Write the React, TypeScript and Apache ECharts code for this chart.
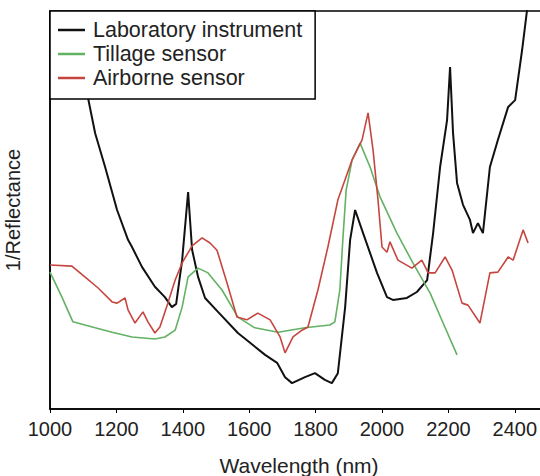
import React, { useEffect, useRef } from "react";
import * as echarts from "echarts";

const xTicks = [1000, 1200, 1400, 1600, 1800, 2000, 2200, 2400];

const labWl = [1072, 1114, 1136, 1166, 1202, 1235, 1247, 1277, 1316, 1346, 1367, 1380, 1398, 1416, 1428, 1446, 1467, 1506, 1566, 1648, 1684, 1708, 1729, 1768, 1798, 1828, 1849, 1867, 1889, 1904, 1919, 1943, 1985, 2015, 2033, 2075, 2105, 2136, 2154, 2175, 2196, 2205, 2214, 2226, 2244, 2265, 2274, 2289, 2304, 2325, 2349, 2380, 2401, 2422, 2437];
const labVal = [99, 78.4, 69.3, 60.8, 50.0, 42.5, 40.7, 35.7, 30.7, 28.1, 25.6, 26.4, 37.4, 54.5, 40.0, 33.2, 27.9, 24.4, 19.1, 13.6, 11.6, 8.0, 6.5, 8.0, 9.0, 7.3, 6.5, 9.0, 25.6, 42.5, 50.0, 44.2, 34.2, 28.1, 27.4, 27.9, 29.4, 32.4, 44.2, 60.8, 72.6, 85.9, 69.3, 56.8, 51.3, 47.5, 44.2, 46.7, 44.2, 60.8, 67.6, 75.9, 77.6, 90.2, 100.3];

const tillWl = [1000, 1036, 1069, 1136, 1187, 1247, 1316, 1346, 1377, 1398, 1416, 1446, 1476, 1518, 1566, 1617, 1687, 1768, 1843, 1858, 1873, 1882, 1892, 1910, 1934, 1964, 1994, 2045, 2093, 2145, 2184, 2226];
const tillVal = [34.4, 28.1, 21.9, 20.4, 19.3, 18.1, 17.6, 18.1, 19.8, 25.6, 33.2, 35.4, 34.2, 29.9, 23.1, 20.4, 19.3, 20.4, 21.1, 21.9, 29.9, 42.5, 55.0, 62.6, 66.8, 60.8, 53.3, 44.2, 36.7, 29.1, 21.6, 13.6];

const airWl = [1000, 1066, 1105, 1145, 1187, 1202, 1226, 1235, 1256, 1280, 1295, 1316, 1331, 1355, 1377, 1398, 1428, 1458, 1482, 1503, 1533, 1563, 1593, 1626, 1663, 1693, 1708, 1732, 1759, 1777, 1807, 1837, 1867, 1910, 1940, 1958, 1973, 1988, 2000, 2015, 2024, 2048, 2090, 2120, 2139, 2160, 2190, 2211, 2241, 2259, 2295, 2325, 2349, 2380, 2395, 2425, 2440];
const airVal = [36.2, 35.9, 33.2, 30.4, 26.9, 26.6, 27.9, 24.9, 21.6, 24.4, 21.9, 19.1, 20.6, 26.6, 32.4, 36.7, 41.0, 43.0, 41.7, 39.9, 31.7, 23.1, 22.4, 24.1, 22.4, 18.1, 14.1, 18.1, 19.8, 20.6, 29.9, 40.7, 52.5, 62.6, 67.6, 74.4, 65.1, 52.5, 40.7, 39.4, 42.0, 37.4, 35.4, 37.4, 34.2, 34.2, 38.2, 34.9, 26.6, 26.1, 21.6, 34.2, 34.4, 38.2, 37.4, 45.0, 41.7];

const seriesNames = ["Laboratory instrument", "Tillage sensor", "Airborne sensor"];

const zip = (a: number[], b: number[]) => a.map((v, i) => [v, b[i]]);

export default function App() {
  const ref = useRef<HTMLDivElement>(null);
  useEffect(() => {
    if (!ref.current) return;
    const chart = echarts.init(ref.current, undefined, { renderer: "svg" });
    const font = "Liberation Sans, Arial, sans-serif";
    chart.setOption({
      animation: false,
      backgroundColor: "#fff",
      textStyle: { fontFamily: font },
      grid: {
        left: 50,
        top: 11,
        width: 498,
        height: 398,
        show: true,
        borderColor: "#000",
        borderWidth: 1.5,
        backgroundColor: "transparent",
        outerBoundsMode: "none",
        containLabel: false,
      },
      legend: {
        orient: "vertical",
        left: 50,
        top: 11,
        backgroundColor: "#fff",
        borderColor: "#000",
        borderWidth: 1.5,
        borderRadius: 0,
        padding: [8, 13, 10, 8],
        itemGap: 2,
        itemWidth: 27,
        itemHeight: 2.5,
        icon: "rect",
        textStyle: { fontSize: 21.5, lineHeight: 22, color: "#222", fontFamily: font, padding: [0, 0, 0, 3] },
        data: seriesNames,
      },
      xAxis: {
        type: "value",
        min: 1000,
        max: 2500,
        interval: 200,
        splitLine: { show: false },
        axisLine: { lineStyle: { color: "#000", width: 1.5 } },
        axisTick: { show: true, length: 4, lineStyle: { color: "#000" } },
        axisLabel: {
          fontSize: 20,
          color: "#222",
          margin: 10,
          fontFamily: font,
          formatter: (v: number) => String(v),
          customValues: xTicks,
        },
        name: "Wavelength (nm)",
        nameLocation: "middle",
        nameGap: 46,
        nameTextStyle: { fontSize: 21, color: "#222", fontFamily: font },
      },
      yAxis: {
        type: "value",
        min: 0,
        max: 100,
        splitLine: { show: false },
        axisLine: { show: true, lineStyle: { color: "#000", width: 1.5 } },
        axisTick: { show: false },
        axisLabel: { show: false },
        name: "1/Reflectance",
        nameLocation: "middle",
        nameGap: 27,
        nameTextStyle: { fontSize: 20, color: "#222", fontFamily: font },
      },
      series: [
        {
          name: seriesNames[0],
          type: "line",
          data: zip(labWl, labVal),
          showSymbol: false,
          symbol: "none",
          lineStyle: { color: "#111", width: 2 },
          itemStyle: { color: "#111" },
        },
        {
          name: seriesNames[1],
          type: "line",
          data: zip(tillWl, tillVal),
          showSymbol: false,
          symbol: "none",
          lineStyle: { color: "#63b163", width: 1.6 },
          itemStyle: { color: "#63b163" },
        },
        {
          name: seriesNames[2],
          type: "line",
          data: zip(airWl, airVal),
          showSymbol: false,
          symbol: "none",
          lineStyle: { color: "#c6463f", width: 1.6 },
          itemStyle: { color: "#c6463f" },
        },
      ],
    });
    return () => chart.dispose();
  }, []);
  return <div ref={ref} style={{ width: 540, height: 476, position: "absolute", left: 0, top: 0 }} />;
}
